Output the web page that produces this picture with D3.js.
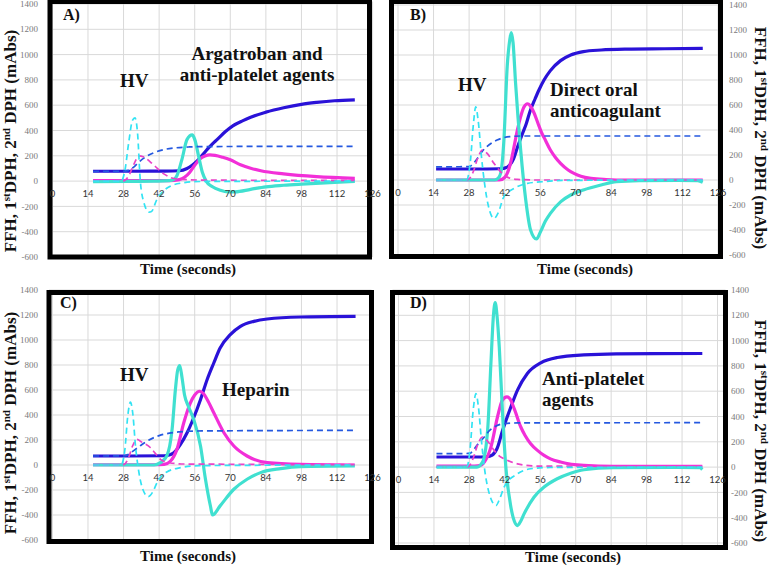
<!DOCTYPE html>
<html><head><meta charset="utf-8">
<script src="https://cdn.jsdelivr.net/npm/d3@7"></script>
<style>body{margin:0;background:#fff}svg{display:block}</style>
</head><body>
<svg id="c" width="770" height="566"></svg>
<script>
// ---------- data ----------
const timeTicks = [0,14,28,42,56,70,84,98,112,126];
const valueTicks = [-600,-400,-200,0,200,400,600,800,1000,1200,1400];
const panelLabels = ["A)","B)","C)","D)"];
const drugNotes = [["Argatroban and","anti-platelet agents"],["Direct oral","anticoagulant"],["Heparin"],["Anti-platelet","agents"]];
const hvNote = "HV";
const xTitle = "Time (seconds)";

// Panel A (patient, solid)
const aFFH = [[16,78],[30,78],[44,79],[50,82],[53,100],[55,125],[57,160],[59,205],[61,253],[63,295],[65,332],[68,390],[71,437],[75,478],[78,505],[84,545],[91,580],[98,607],[104,622],[111,635],[119,642]];
const aD1 = [[16,3],[30,3],[46,4],[50,12],[52,30],[54,68],[56,125],[58,174],[60,198],[62,207],[64,203],[67,188],[70,168],[74,130],[78,102],[82,82],[91,57],[104,35],[119,22]];
const aD2 = [[16,-5],[30,-2],[40,0],[46,3],[48,15],[49,42],[51,174],[53,330],[55,365],[56,330],[57.5,200],[59,70],[60.5,0],[63,-45],[66,-72],[69,-86],[72,-85],[78,-65],[84,-45],[91,-33],[98,-24],[111,-10],[119,-3]];
// Panel A (healthy volunteer, dashed)
const aHVFFH = [[16,76],[28,78],[30,85],[32,110],[34,150],[37,195],[40,225],[44,250],[48,262],[54,270],[60,273],[119,275]];
const aHVD1 = [[16,0],[28,2],[30,40],[32,130],[34,200],[36,190],[40,125],[44,55],[46.5,28],[50,15],[60,8],[119,5]];
const aHVD2 = [[16,0],[27,0],[28.5,80],[30,300],[31.5,480],[32.5,500],[33.5,380],[34.6,0],[36,-170],[38,-245],[39,-240],[41,-150],[43.8,-76],[47,-35],[52,-12],[58,-3],[119,0]];

// Panel B
const bFFH = [[15,88],[30,88],[40,90],[42,95],[44,120],[45.5,170],[47,260],[49,370],[50.5,450],[52,550],[54,650],[55.5,720],[57.5,800],[60,875],[64,955],[68,1000],[73,1027],[80,1040],[90,1047],[105,1050],[120,1053]];
const bD1 = [[15,0],[40,0],[42,20],[43,53],[44.5,150],[45.7,267],[47,400],[48.3,507],[49.5,580],[51,610],[52,595],[53.5,540],[55,460],[56.5,380],[58,320],[60,240],[62,180],[64,133],[67,80],[69.3,53],[72,30],[76,13],[82,4],[90,0],[120,0]];
const bD2 = [[15,0],[38,0],[39.5,15],[40.5,60],[41.7,320],[43,907],[44,1120],[44.6,1180],[45.3,1100],[46.3,773],[48.3,240],[50.3,-160],[52.2,-400],[54.5,-472],[56.2,-410],[58,-330],[60,-267],[64,-175],[68,-120],[73,-80],[80,-40],[86,-13],[95,-5],[110,-3],[118,-5],[120,-18]];
const bHVFFH = [[15,105],[28,107],[30,140],[31.5,180],[33,225],[35,267],[37,298],[39,320],[41.5,338],[44,347],[49,352],[120,352]];
const bHVD1 = [[15,0],[27.5,2],[29.5,60],[31.5,180],[33.2,240],[35,215],[37.8,133],[40,75],[41.7,40],[44,15],[47,5],[55,0],[120,0]];
const bHVD2 = [[15,0],[27,0],[28.5,150],[29.7,450],[30.6,585],[31.6,470],[32.8,200],[33.9,0],[35.5,-200],[37.8,-307],[39.5,-260],[41.7,-133],[45.7,-67],[51,-27],[57.5,-13],[65,-3],[120,0]];

// Panel C
const cFFH = [[16,72],[30,72],[44,74],[46,80],[47.8,98],[50.4,165],[53,258],[55.6,378],[58.3,524],[60.9,684],[63.5,816],[66,936],[70,1043],[74,1109],[79.3,1149],[84.5,1168],[97.6,1184],[119.3,1189]];
const cD1 = [[16,2],[40,2],[44,5],[46.5,32],[49,125],[51.7,338],[54.3,497],[56,560],[57.9,590],[59.5,570],[60.9,524],[63.5,418],[67.5,258],[71.4,152],[76.6,72],[84.5,19],[97.6,5],[119,0]];
const cD2 = [[16,0],[40,0],[42.5,19],[45,72],[47.1,285],[48.4,604],[49.3,760],[50.1,795],[51,700],[52,560],[53.5,470],[55.6,364],[58.3,150],[60.2,-110],[62.2,-330],[63,-400],[66,-327],[71.4,-194],[76.6,-114],[81.9,-61],[89.8,-29],[97.6,-13],[119,-8]];
const cHVFFH = [[16,72],[28,73],[30,85],[32,115],[35,160],[38,200],[42,235],[46,255],[50,265],[56,272],[119,277]];
const cHVD1 = [[16,0],[28,2],[30,60],[31.5,150],[33.3,205],[35,185],[38.6,138],[41,80],[42.5,45],[46,18],[52,8],[119,3]];
const cHVD2 = [[16,0],[27,0],[28.5,120],[29.7,400],[30.7,503],[31.7,400],[32.7,150],[33.6,0],[35.5,-190],[37.7,-253],[39.5,-215],[41.2,-141],[45,-56],[50.4,-21],[58,-5],[119,0]];

// Panel D
const dFFH = [[15,80],[30,80],[35,82],[37,95],[39,150],[41.1,290],[44.4,476],[47,608],[50.9,740],[56.2,824],[62.7,866],[73.2,887],[86,895],[120,898]];
const dD1 = [[15,8],[30,8],[32.5,15],[33.9,40],[36.5,158],[39.1,396],[41,528],[42.8,555],[44,540],[45.7,462],[48.3,317],[50,250],[52.2,185],[55,130],[57.5,92],[60,65],[64,40],[73.2,13],[85,6],[120,5]];
const dD2 = [[15,0],[31,0],[33.2,40],[35.2,290],[36.5,819],[37.5,1200],[38.2,1300],[38.9,1200],[39.8,951],[41.1,423],[42.4,0],[44.4,-317],[45.8,-430],[47,-462],[48.2,-430],[49.6,-370],[53.5,-238],[57.5,-158],[62.7,-92],[68,-48],[73.2,-21],[85,-5],[110,-3],[119,-5],[120,-20]];
const dHVFFH = [[15,106],[28,108],[30,145],[31,172],[33.9,238],[36,290],[37.8,317],[41.7,343],[47,349],[120,351]];
const dHVD1 = [[15,0],[27.5,2],[29.5,70],[31.5,190],[33.2,238],[35,210],[37.8,132],[40,85],[41.7,66],[47,26],[55,8],[120,5]];
const dHVD2 = [[15,0],[27,0],[28.3,150],[29.5,450],[30.6,581],[31.6,470],[32.8,200],[33.9,0],[36,-220],[38.5,-304],[40,-250],[41.7,-158],[47,-53],[52.2,-13],[60,-3],[120,0]];

// ---------- styles ----------
const solidColors = {ffh:"#2a12d8", d1:"#f22fd8", d2:"#40e0d0"};
const dashColors = {ffh:"#2458e0", d1:"#ea42c8", d2:"#33e3f3"};

// ---------- layout ----------
const panels = [
  {lab:0, solid:[aFFH,aD1,aD2], hv:[aHVFFH,aHVD1,aHVD2], xr:[52.4,372.6], yr:[257,4],
   frame:[50,1.5,369.5,257], axis:"left", tickX:38, titleX:16, titleY:141, xTitleX:188, xTitleY:274,
   labPos:[63,20], hvPos:[120,87], notePos:[257,60,81], noteAnchor:"middle"},
  {lab:1, solid:[bFFH,bD1,bD2], hv:[bHVFFH,bHVD1,bHVD2], xr:[398,718], yr:[255,5],
   frame:[391.5,1.5,720.5,256.5], axis:"right", tickX:729, titleX:755, titleY:138, xTitleX:585, xTitleY:274,
   labPos:[410,20], hvPos:[458,91], notePos:[550,96,117], noteAnchor:"start"},
  {lab:2, solid:[cFFH,cD1,cD2], hv:[cHVFFH,cHVD1,cHVD2], xr:[52.4,372.6], yr:[540,290],
   frame:[49,292.5,371.5,541.5], axis:"left", tickX:38, titleX:16, titleY:423, xTitleX:188, xTitleY:561,
   labPos:[60,308], hvPos:[120,381], notePos:[222,396], noteAnchor:"start"},
  {lab:3, solid:[dFFH,dD1,dD2], hv:[dHVFFH,dHVD1,dHVD2], xr:[398.5,717.5], yr:[543,290],
   frame:[392.5,292.5,725.5,547.5], axis:"right", tickX:731, titleX:755, titleY:431, xTitleX:573, xTitleY:562,
   labPos:[410,308], hvPos:null, notePos:[542,385,406], noteAnchor:"start"}
];

const svg = d3.select("#c");
const serif = "'Liberation Serif','Times New Roman',serif";
const keys = ["ffh","d1","d2"];

function yTitle(g, x, y, rot){
  const t = g.append("text").attr("transform",`translate(${x},${y}) rotate(${rot})`)
    .attr("text-anchor","middle").attr("font-family",serif).attr("font-weight","bold")
    .attr("font-size",17).attr("fill","#111");
  t.append("tspan").text("FFH, 1");
  t.append("tspan").attr("font-size",11).attr("dy",-6).text("st");
  t.append("tspan").attr("dy",6).text("DPH, 2");
  t.append("tspan").attr("font-size",11).attr("dy",-6).text("nd");
  t.append("tspan").attr("dy",6).text(" DPH (mAbs)");
}

panels.forEach(p => {
  const g = svg.append("g");
  const x = d3.scaleLinear().domain([0,126]).range(p.xr);
  const y = d3.scaleLinear().domain([-600,1400]).range(p.yr);
  const [fx0,fy0,fx1,fy1] = p.frame;

  // grid
  g.append("g").selectAll("line").data(valueTicks).join("line")
    .attr("x1",fx0).attr("x2",fx1).attr("y1",d=>y(d)).attr("y2",d=>y(d))
    .attr("stroke","#d9d9d9").attr("stroke-width",1);
  g.append("g").selectAll("line").data(timeTicks).join("line")
    .attr("x1",d=>x(d)).attr("x2",d=>x(d)).attr("y1",fy0).attr("y2",fy1)
    .attr("stroke","#d9d9d9").attr("stroke-width",1);

  // y tick labels
  g.append("g").selectAll("text").data(valueTicks).join("text")
    .attr("x",p.tickX).attr("y",d=>y(d)).attr("dy","0.35em")
    .attr("text-anchor",p.axis==="left"?"end":"start")
    .attr("font-family",serif).attr("font-size",9).attr("fill","#7a7a7a")
    .text(d=>d);

  const line = d3.line().x(d=>x(d[0])).y(d=>y(d[1])).curve(d3.curveMonotoneX);
  // patient solid curves
  p.solid.forEach((s,i)=>{
    g.append("path").attr("d",line(s)).attr("fill","none")
      .attr("stroke",solidColors[keys[i]]).attr("stroke-width",3.2).attr("stroke-linejoin","round");
  });
  // healthy volunteer dashed curves
  p.hv.forEach((s,i)=>{
    g.append("path").attr("d",line(s)).attr("fill","none")
      .attr("stroke",dashColors[keys[i]]).attr("stroke-width",1.7).attr("stroke-dasharray","6,4");
  });

  // frame
  g.append("rect").attr("x",fx0).attr("y",fy0).attr("width",fx1-fx0).attr("height",fy1-fy0)
    .attr("fill","none").attr("stroke","#000").attr("stroke-width",5);

  // x tick labels (drawn over the frame, as in the source)
  g.append("g").selectAll("text").data(timeTicks).join("text")
    .attr("x",d=>x(d)).attr("y",y(0)+16).attr("text-anchor","middle")
    .attr("font-family","Lato,'Liberation Sans',sans-serif").attr("font-size",9.5).attr("fill","#333")
    .text(d=>d);

  // titles
  yTitle(g, p.titleX, p.titleY, p.axis==="left"?-90:90);
  g.append("text").attr("x",p.xTitleX).attr("y",p.xTitleY).attr("text-anchor","middle")
    .attr("font-family",serif).attr("font-weight","bold").attr("font-size",15).attr("fill","#111").text(xTitle);

  // annotations
  g.append("text").attr("x",p.labPos[0]).attr("y",p.labPos[1])
    .attr("font-family",serif).attr("font-weight","bold").attr("font-size",16).attr("fill","#111")
    .text(panelLabels[p.lab]);
  if (p.hvPos) g.append("text").attr("x",p.hvPos[0]).attr("y",p.hvPos[1])
    .attr("font-family",serif).attr("font-weight","bold").attr("font-size",19).attr("fill","#111").text(hvNote);
  drugNotes[p.lab].forEach((t,i)=>{
    g.append("text").attr("x",p.notePos[0]).attr("y",p.notePos[1+i]).attr("text-anchor",p.noteAnchor)
      .attr("font-family",serif).attr("font-weight","bold").attr("font-size",19).attr("fill","#111").text(t);
  });
});
</script>
</body></html>
